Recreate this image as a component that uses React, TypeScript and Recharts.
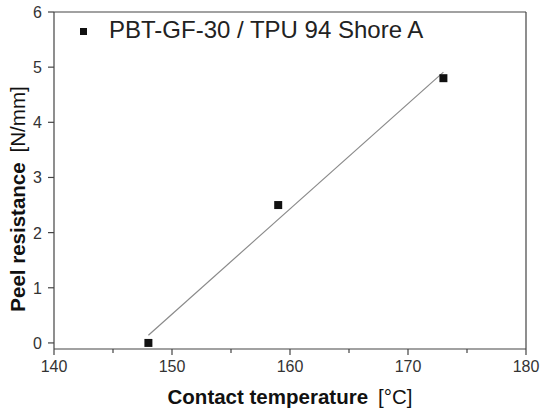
import React from "react";
import {
  ScatterChart,
  Scatter,
  XAxis,
  YAxis,
  ReferenceLine,
} from "recharts";

const temperatures = [148, 159, 173];
const peelValues = [0, 2.5, 4.8];
const fitTemps = [148, 173];
const fitValues = [0.14, 4.91];
const xTicks = [140, 145, 150, 155, 160, 165, 170, 175, 180];
const yTicks = [0, 1, 2, 3, 4, 5, 6];
const seriesName = "PBT-GF-30 / TPU 94 Shore A";

const points = temperatures.map((t, i) => ({ x: t, y: peelValues[i] }));
const fitLine = fitTemps.map((t, i) => ({ x: t, y: fitValues[i] }));

const axisColor = "#444";
const font = "Arial, 'Liberation Sans', sans-serif";

const XTick = (props: any) => {
  const { x, y, payload } = props;
  const major = payload.value % 10 === 0;
  return (
    <g>
      <line x1={x} y1={y} x2={x} y2={y + (major ? 6 : 4)} stroke={axisColor} strokeWidth={1.2} />
      {major && (
        <text x={x} y={y + 23} textAnchor="middle" fontSize={16} fill="#333" fontFamily={font}>
          {payload.value}
        </text>
      )}
    </g>
  );
};

const YTick = (props: any) => {
  const { x, y, payload } = props;
  return (
    <g>
      <line x1={x} y1={y} x2={x - 6} y2={y} stroke={axisColor} strokeWidth={1.2} />
      <text x={x - 12} y={y + 6} textAnchor="end" fontSize={16} fill="#333" fontFamily={font}>
        {payload.value}
      </text>
    </g>
  );
};

export default function App() {
  return (
    <div style={{ position: "absolute", left: 0, top: 0, width: 541, height: 413, background: "#fff" }}>
      <ScatterChart width={541} height={413} margin={{ top: 12, right: 15, bottom: 0, left: 0 }}>
        <XAxis
          type="number"
          dataKey="x"
          domain={[140, 180]}
          ticks={xTicks}
          interval={0}
          tickSize={0}
          tickMargin={0}
          tick={<XTick />}
          height={64}
          stroke={axisColor}
          strokeWidth={1.2}
        />
        <YAxis
          type="number"
          dataKey="y"
          domain={[-0.11, 6]}
          ticks={yTicks}
          interval={0}
          tickSize={0}
          tickMargin={0}
          tick={<YTick />}
          width={54}
          stroke={axisColor}
          strokeWidth={1.2}
          allowDataOverflow
        />
        <ReferenceLine y={6} stroke={axisColor} strokeWidth={1.2} />
        <ReferenceLine x={180} stroke={axisColor} strokeWidth={1.2} />
        <Scatter
          data={fitLine}
          line={{ stroke: "#8a8a8a", strokeWidth: 1.2 }}
          shape={() => null}
          legendType="none"
          isAnimationActive={false}
        />
        <Scatter name={seriesName} data={points} fill="#111" shape="square" isAnimationActive={false} />
        {/* legend */}
        <g>
          <rect x={80} y={28} width={7} height={7} fill="#111" />
          <text x={109} y={38} fontSize={24} fontFamily={font} fill="#222">
            {seriesName}
          </text>
        </g>
        <text x={290} y={404} textAnchor="middle" fontSize={20.5} fontFamily={font} fill="#111">
          <tspan fontWeight="bold">Contact temperature</tspan>
          <tspan dx={10}>[°C]</tspan>
        </text>
        <text
          x={25}
          y={199}
          transform="rotate(-90 25 199)"
          textAnchor="middle"
          fontSize={20.5}
          fontFamily={font}
          fill="#111"
        >
          <tspan fontWeight="bold">Peel resistance</tspan>
          <tspan dx={10}>[N/mm]</tspan>
        </text>
      </ScatterChart>
    </div>
  );
}
